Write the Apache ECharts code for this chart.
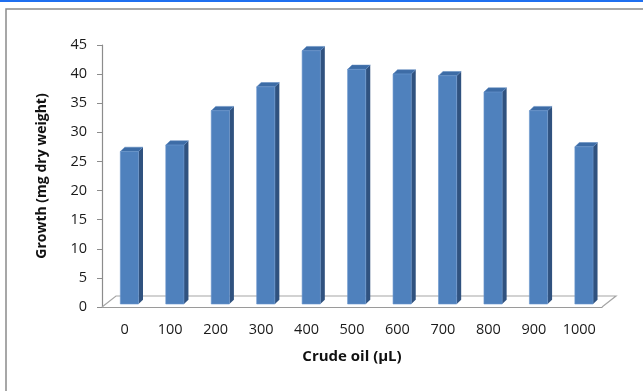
<!DOCTYPE html>
<html>
<head>
<meta charset="utf-8">
<script src="https://cdn.jsdelivr.net/npm/echarts@6/dist/echarts.min.js"></script>
<style>
  html, body { margin: 0; padding: 0; background: #fff; }
  #chart { width: 643px; height: 391px; }
</style>
</head>
<body>
<div id="chart"></div>
<script>
// Crude oil dose (µL) and measured growth (mg dry weight)
const categories = ['0', '100', '200', '300', '400', '500', '600', '700', '800', '900', '1000'];
const growth = [26.2, 27.3, 33.2, 37.3, 43.5, 40.3, 39.5, 39.2, 36.4, 33.2, 27.0];
const yMin = 0, yMax = 45, yStep = 5;
const xTitle = 'Crude oil (µL)';
const yTitle = 'Growth (mg dry weight)';

const FONT = '"Open Sans", "Noto Sans", sans-serif';
const FRONT = '#4f81bd', SIDE = '#30527f', TOP = '#3d6ca6';
const DEPTH = [4.5, -4.3];   // bar depth projection
const LIFT = 3;              // bars stand a little behind the front floor edge
const FLOOR = [14, -11];     // floor depth projection

const chart = echarts.init(document.getElementById('chart'), null, { renderer: 'canvas' });

function renderBar(params, api) {
  const idx = api.value(0), v = api.value(1);
  const base = api.coord([idx, 0]);
  const top = api.coord([idx, v]);
  const band = api.size([1, 0])[0];
  const w = band * 0.40;
  const x0 = base[0] - band * 0.097;
  const x1 = x0 + w;
  const yb = base[1] - LIFT, yt = top[1] - LIFT;
  const [dx, dy] = DEPTH;
  return {
    type: 'group',
    children: [
      { type: 'polygon', shape: { points: [[x1, yt], [x1 + dx, yt + dy], [x1 + dx, yb + dy], [x1, yb]] },
        style: { fill: SIDE } },
      { type: 'polygon', shape: { points: [[x0, yt], [x0 + dx, yt + dy], [x1 + dx, yt + dy], [x1, yt]] },
        style: { fill: TOP, stroke: '#5a86bf', lineWidth: 0.5 } },
      { type: 'rect', shape: { x: x0, y: yt, width: w, height: yb - yt },
        style: { fill: FRONT, stroke: '#6a96cc', lineWidth: 0.6 } }
    ]
  };
}

function renderFloor(params, api) {
  const first = api.coord([0, 0]);
  const last = api.coord([categories.length - 1, 0]);
  const band = api.size([1, 0])[0];
  const L = first[0] - band / 2, R = last[0] + band / 2, y = first[1];
  const [fx, fy] = FLOOR;
  return {
    type: 'polyline',
    shape: { points: [[L, y], [L + fx, y + fy], [R + fx, y + fy], [R, y]] },
    style: { stroke: '#a6a6a6', lineWidth: 1.2, fill: null }
  };
}

chart.setOption({
  animation: false,
  grid: { left: 102, top: 45, width: 500, height: 262 },
  xAxis: {
    type: 'category',
    data: categories,
    axisLine: { lineStyle: { color: '#9a9a9a', width: 1.2 } },
    axisTick: { length: 5, lineStyle: { color: '#9a9a9a' } },
    axisLabel: { margin: 15, color: '#1a1a1a', fontFamily: FONT, fontSize: 14.5 },
    name: xTitle,
    nameLocation: 'middle',
    nameGap: 50,
    nameTextStyle: { fontFamily: FONT, fontWeight: 'bold', fontSize: 15, color: '#111', verticalAlign: 'middle' }
  },
  yAxis: {
    type: 'value',
    min: yMin, max: yMax, interval: yStep,
    axisLine: { show: true, lineStyle: { color: '#8c8c8c', width: 1.2 } },
    axisTick: { show: true, length: 5, lineStyle: { color: '#8c8c8c' } },
    axisLabel: { margin: 15, color: '#1a1a1a', fontFamily: FONT, fontSize: 14.5 },
    splitLine: { show: false }
  },
  graphic: [
    { type: 'rect', shape: { x: 0, y: 0, width: 643, height: 2 }, style: { fill: '#1f6ff0' }, silent: true },
    { type: 'rect', shape: { x: 6, y: 9, width: 660, height: 400 },
      style: { fill: null, stroke: '#8a8a8a', lineWidth: 1.5 }, silent: true },
    { type: 'text', x: 42, y: 176, rotation: Math.PI / 2,
      style: { text: yTitle, fontFamily: FONT, fontWeight: 'bold', fontSize: 14, fill: '#111',
               align: 'center', verticalAlign: 'middle' } }
  ],
  series: [
    { type: 'custom', name: 'floor', renderItem: renderFloor, data: [[0, 0]], z: 1, silent: true },
    { type: 'custom', name: 'growth', renderItem: renderBar,
      data: growth.map((v, i) => [i, v]), encode: { x: 0, y: 1 }, z: 2 }
  ]
});
</script>
</body>
</html>
